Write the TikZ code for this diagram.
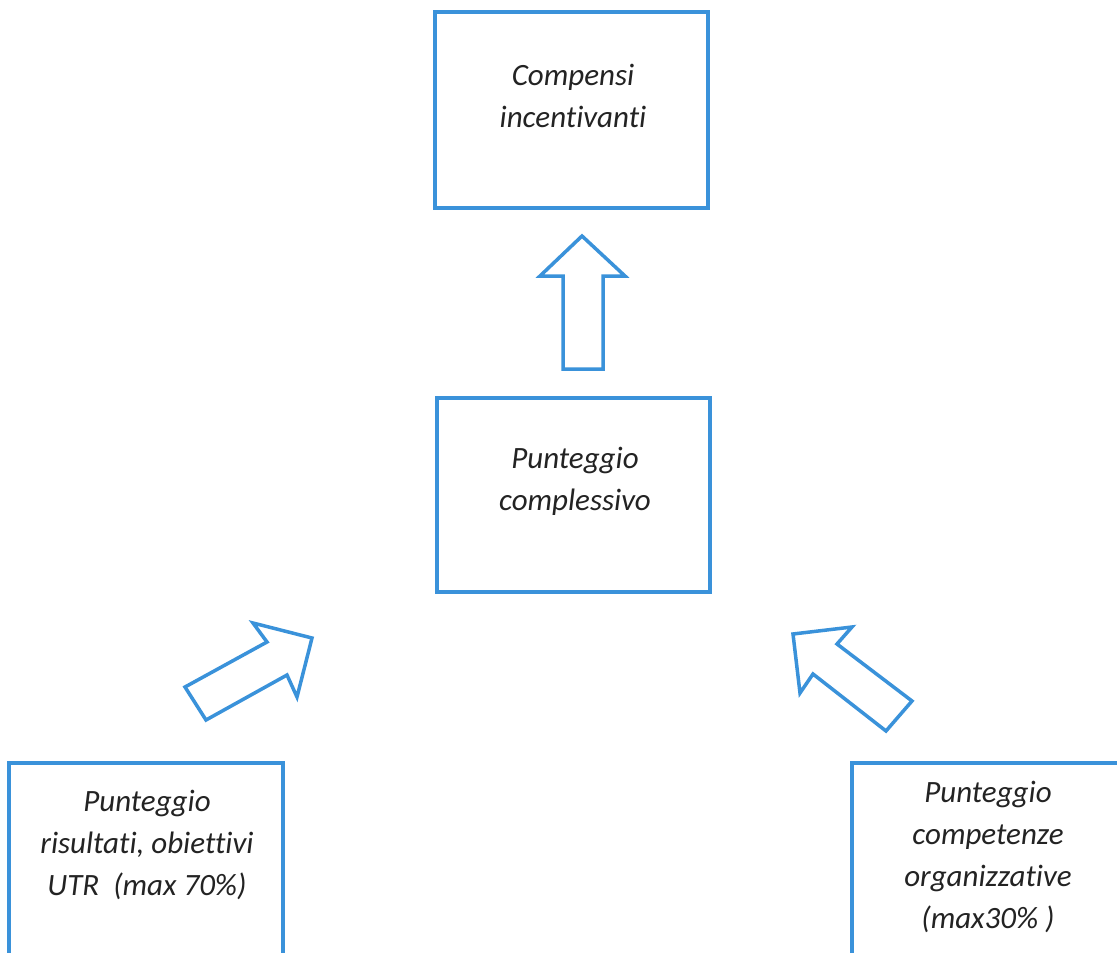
\documentclass[tikz,border=0pt]{standalone}
\usepackage{fontspec}
\setmainfont[RawFeature=-liga]{Carlito}
\definecolor{boxblue}{RGB}{58,146,218}
\definecolor{txtgray}{RGB}{35,35,35}
\tikzset{
  box/.style={draw=boxblue, line width=3.5pt, rectangle, inner sep=0pt},
  txt/.style={align=center, text=txtgray, font=\fontsize{31}{42}\selectfont\itshape, inner sep=0pt},
  blockarrow/.style={draw=boxblue, line width=3.5pt, line join=miter, fill=white}
}
\begin{document}
\begin{tikzpicture}[x=1pt, y=-1pt]
\clip (0,0) rectangle (1117,953);
\fill[white] (0,0) rectangle (1117,953);
% boxes
\node[box, minimum width=273pt, minimum height=196pt] (top) at (571.5,110) {};
\node[box, minimum width=273pt, minimum height=194pt] (mid) at (573.5,495) {};
\node[box, minimum width=274pt, minimum height=230pt] (bl) at (146,878) {};
\node[box, minimum width=290pt, minimum height=230pt] (br) at (997,878) {};
% texts
\node[txt] (ttop) at (573,96) {Compensi\\incentivanti};
\node[txt] (tmid) at (575,481) {Punteggio\\complessivo};
\node[txt] (tbl) at (147,845) {Punteggio\\risultati, obiettivi\\UTR\ \ (max 70\%)};
\node[txt] (tbr) at (988,857) {Punteggio\\competenze\\organizzative\\(max30\% )};
% block arrows
\draw[blockarrow] (582,236) -- (625,276) -- (603,276) -- (603,369) -- (563,369) -- (563,276) -- (540,276) -- cycle;
\draw[blockarrow] (312,638) -- (297,697) -- (287,675) -- (206,720) -- (185,687) -- (267,642) -- (253,623) -- cycle;
\draw[blockarrow] (793,634) -- (852,627) -- (837,644) -- (912,701) -- (886,731) -- (813,674) -- (800,693) -- cycle;
\end{tikzpicture}
\end{document}
